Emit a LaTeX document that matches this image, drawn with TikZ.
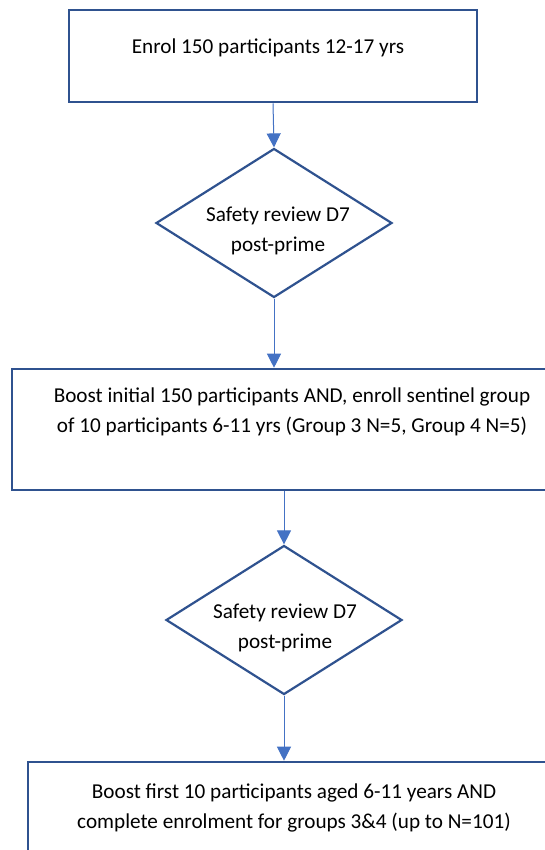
\documentclass[tikz,border=0pt]{standalone}
\usepackage{fontspec}
\setmainfont{Carlito}
\usetikzlibrary{shapes.geometric,arrows.meta}
\definecolor{edgeblue}{RGB}{47,82,143}
\definecolor{arrowblue}{RGB}{68,114,196}
\begin{document}
\begin{tikzpicture}[x=1pt,y=-1pt,
  stepbox/.style={draw=edgeblue,line width=2.6pt,rectangle,inner sep=0pt},
  decision/.style={draw=edgeblue,line width=2.2pt,diamond,inner sep=0pt,
    minimum width=236pt,minimum height=149pt},
  label/.style={font=\fontsize{21.2}{29.5}\selectfont,align=center,inner sep=0pt},
  flow/.style={draw=arrowblue,line width=1pt,
    -{Triangle[width=14pt,length=14pt]},fill=arrowblue}]
\useasboundingbox (0,0) rectangle (545,850);
\fill[white] (0,0) rectangle (545,850);

% first enrolment box
\node[stepbox,minimum width=408pt,minimum height=92pt] (b1) at (273,56) {};
\node[label] (t1) at (268,48) {Enrol 150 participants 12-17 yrs};

% first safety review
\node[decision] (d1) at (274,223) {};
\node[label] (t2) at (278,231) {Safety review D7\\post-prime};

% boost and sentinel group (runs past the right edge)
\node[stepbox,minimum width=548pt,minimum height=121pt] (b2) at (286,429.5) {};
\node[label] (t3) at (292,412) {Boost initial 150 participants AND, enroll sentinel group\\of 10 participants 6-11 yrs (Group 3 N=5, Group 4 N=5)};

% second safety review
\node[decision] (d2) at (284,620) {};
\node[label] (t4) at (285,628) {Safety review D7\\post-prime};

% final box (runs past the right and bottom edges)
\node[stepbox,minimum width=540pt,minimum height=120pt] (b3) at (298,822) {};
\node[label] (t5) at (294,808) {Boost first 10 participants aged 6-11 years AND\\complete enrolment for groups 3\&4 (up to N=101)};

% connectors
\draw[flow] (b1.south) -- (d1.north);
\draw[flow] (d1.south) -- (d1.south |- b2.north);
\draw[flow] (b2.south -| d2.north) -- (d2.north);
\draw[flow] (d2.south) -- (d2.south |- b3.north);
\end{tikzpicture}
\end{document}
